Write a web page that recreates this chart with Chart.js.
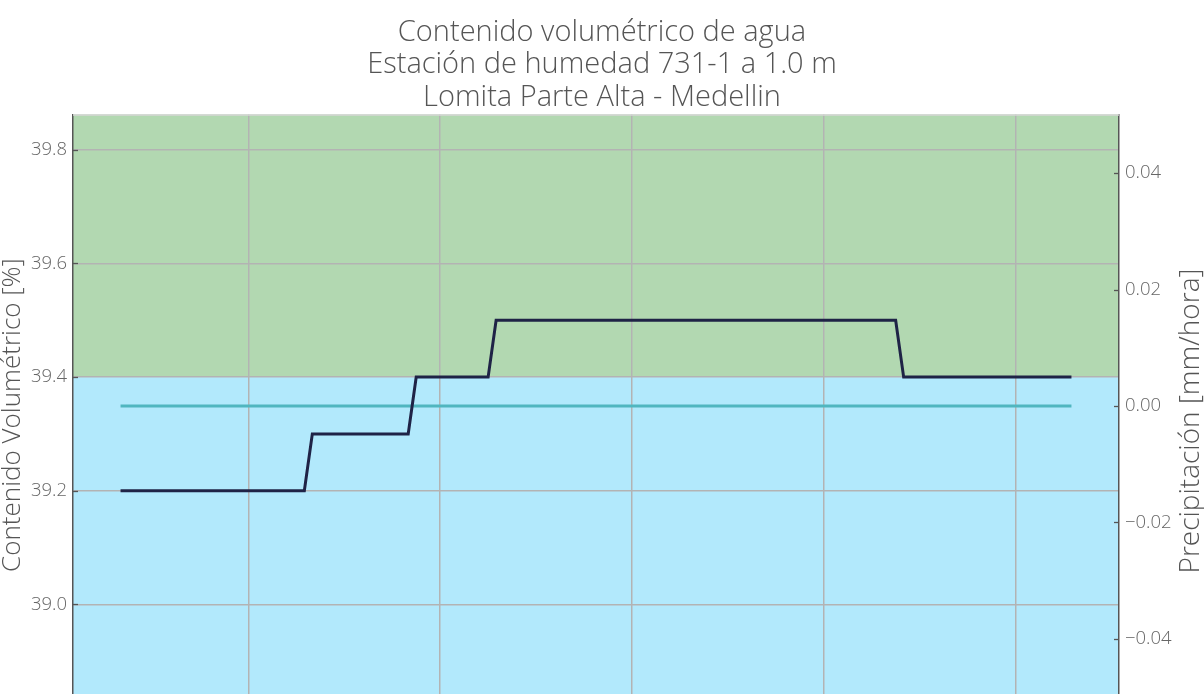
<!DOCTYPE html>
<html>
<head>
<meta charset="utf-8">
<script src="https://cdn.jsdelivr.net/npm/chart.js@4.4.1/dist/chart.umd.min.js"></script>
<style>
  html, body { margin: 0; padding: 0; background: #ffffff; overflow: hidden; }
  canvas { display: block; }
</style>
</head>
<body>
<canvas id="chart" width="1204" height="698"></canvas>
<script>
// Title
const titleLines = [
  'Contenido volumétrico de agua',
  'Estación de humedad 731-1 a 1.0 m',
  'Lomita Parte Alta - Medellin'
];
const leftAxisTitle = 'Contenido Volumétrico [%]';
const rightAxisTitle = 'Precipitación [mm/hora]';

// Soil water content [%] — vertices of the 5-minute series (minutes from start)
const moistureMinutes = [0, 115, 120, 180, 185, 230, 235, 485, 490, 595];
const moistureValues  = [39.2, 39.2, 39.3, 39.3, 39.4, 39.4, 39.5, 39.5, 39.4, 39.4];

// Precipitation [mm/hora]
const rainMinutes = [0, 595];
const rainValues  = [0.0, 0.0];

// Axis ticks
const moistureTicks = [39.0, 39.2, 39.4, 39.6, 39.8];
const rainTicks = [-0.04, -0.02, 0.0, 0.02, 0.04];
const timeGridMinutes = [80, 200, 320, 440, 560];

// Above this water content the background is shaded green, below it blue
const wetThreshold = 39.4;

const FONT = '"Open Sans", Lato, sans-serif';
const TEXT = '#555555';

const bandPlugin = {
  id: 'bands',
  beforeDraw(chart) {
    const { ctx, chartArea: a, scales } = chart;
    const yT = scales.y.getPixelForValue(wetThreshold);
    ctx.save();
    ctx.fillStyle = '#b2d8b1';
    ctx.fillRect(a.left, a.top, a.right - a.left, yT - a.top);
    ctx.fillStyle = '#b2e9fc';
    ctx.fillRect(a.left, yT, a.right - a.left, a.bottom - yT);
    ctx.restore();
  }
};

function drawVerticalText(ctx, text, x, y, size) {
  ctx.save();
  ctx.translate(x, y);
  ctx.rotate(-Math.PI / 2);
  ctx.font = '300 ' + size + 'px ' + FONT;
  ctx.fillStyle = TEXT;
  ctx.textAlign = 'center';
  ctx.textBaseline = 'middle';
  ctx.fillText(text, 0, 0);
  ctx.restore();
}

const framePlugin = {
  id: 'frame',
  afterDatasetsDraw(chart) {
    const { ctx, chartArea: a, scales } = chart;
    ctx.save();
    // top frame line
    ctx.strokeStyle = '#d6d6d6';
    ctx.lineWidth = 1.5;
    ctx.beginPath();
    ctx.moveTo(a.left, a.top + 0.5);
    ctx.lineTo(a.right, a.top + 0.5);
    ctx.stroke();
    // inward tick marks
    ctx.strokeStyle = '#555555';
    ctx.lineWidth = 1.3;
    moistureTicks.forEach(v => {
      const y = Math.round(scales.y.getPixelForValue(v)) + 0.5;
      ctx.beginPath(); ctx.moveTo(a.left, y); ctx.lineTo(a.left + 5, y); ctx.stroke();
    });
    rainTicks.forEach(v => {
      const y = Math.round(scales.y2.getPixelForValue(v)) + 0.5;
      ctx.beginPath(); ctx.moveTo(a.right - 5, y); ctx.lineTo(a.right, y); ctx.stroke();
    });
    ctx.restore();
  },
  afterDraw(chart) {
    // axis titles, both read bottom to top
    drawVerticalText(chart.ctx, leftAxisTitle, 13, 415, 26);
    drawVerticalText(chart.ctx, rightAxisTitle, 1191, 421, 28);
  }
};

const toXY = (xs, ys) => xs.map((x, i) => ({ x: x, y: ys[i] }));
const fmtSigned = v => (v < 0 ? '\u2212' : '') + Math.abs(v).toFixed(2);
const noPad = s => { s.paddingTop = 0; s.paddingBottom = 0; };

new Chart(document.getElementById('chart'), {
  type: 'line',
  data: {
    datasets: [
      {
        label: 'Contenido volumétrico',
        data: toXY(moistureMinutes, moistureValues),
        yAxisID: 'y',
        borderColor: '#1f2346',
        borderWidth: 3,
        pointRadius: 0,
        tension: 0,
        borderJoinStyle: 'miter',
        order: 1
      },
      {
        label: 'Precipitación',
        data: toXY(rainMinutes, rainValues),
        yAxisID: 'y2',
        borderColor: '#50b6bf',
        borderWidth: 3,
        pointRadius: 0,
        tension: 0,
        order: 2
      }
    ]
  },
  options: {
    responsive: false,
    animation: false,
    events: [],
    layout: { padding: 0 },
    plugins: {
      legend: { display: false },
      tooltip: { enabled: false },
      title: {
        display: true,
        text: titleLines,
        color: TEXT,
        font: { family: FONT, size: 29, weight: '300', lineHeight: 32.8 / 29 },
        padding: { top: 16, bottom: 0 }
      }
    },
    scales: {
      x: {
        type: 'linear',
        min: -29.75,
        max: 624.75,
        afterBuildTicks: s => { s.ticks = timeGridMinutes.map(v => ({ value: v })); },
        afterFit: s => { s.height = 0; s.paddingLeft = 0; s.paddingRight = 0; },
        ticks: { display: false },
        grid: { color: '#b3b3b3', lineWidth: 1.5, drawTicks: false },
        border: { display: false }
      },
      y: {
        position: 'left',
        min: 38.835,
        max: 39.8625,
        afterBuildTicks: s => { s.ticks = moistureTicks.map(v => ({ value: v })); },
        afterFit: s => { s.width = 73; noPad(s); },
        ticks: {
          color: '#666666',
          font: { family: FONT, size: 18.5, weight: '300' },
          padding: 6,
          autoSkip: false,
          callback: v => Number(v).toFixed(1)
        },
        grid: { color: '#b3b3b3', lineWidth: 1.5, drawTicks: false },
        border: { color: '#555555', width: 1.5 }
      },
      y2: {
        position: 'right',
        min: -0.0502,
        max: 0.0501,
        afterBuildTicks: s => { s.ticks = rainTicks.map(v => ({ value: v })); },
        afterFit: s => { s.width = 85; noPad(s); },
        ticks: {
          color: '#666666',
          font: { family: FONT, size: 18.5, weight: '300' },
          padding: 6,
          autoSkip: false,
          callback: v => fmtSigned(Number(v))
        },
        grid: { drawOnChartArea: false, drawTicks: false },
        border: { color: '#555555', width: 1.5 }
      }
    }
  },
  plugins: [bandPlugin, framePlugin]
});
</script>
</body>
</html>
